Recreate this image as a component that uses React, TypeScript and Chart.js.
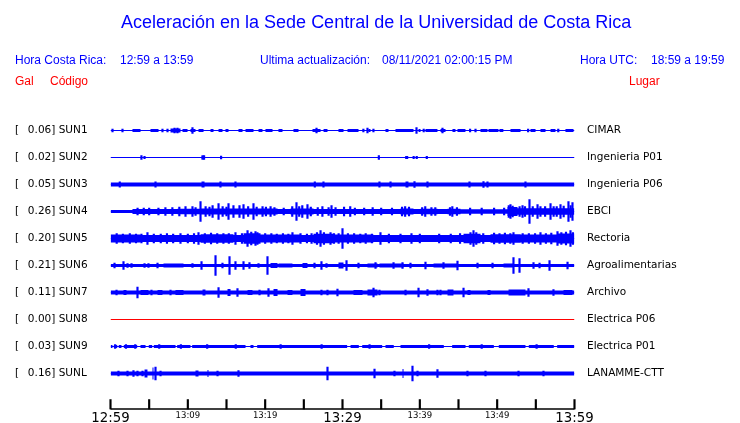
import React, { useEffect, useRef } from "react";
import { Chart, registerables } from "chart.js";

Chart.register(...registerables);

// ---------- texts ----------
const TITLE = "Aceleración en la Sede Central de la Universidad de Costa Rica";
const LOCAL_LABEL = "Hora Costa Rica:";
const LOCAL_RANGE = "12:59 a 13:59";
const UPDATE_LABEL = "Ultima actualización:";
const UPDATE_TIME = "08/11/2021 02:00:15 PM";
const UTC_LABEL = "Hora UTC:";
const UTC_RANGE = "18:59 a 19:59";
const COL_GAL = "Gal";
const COL_CODE = "Código";
const COL_PLACE = "Lugar";

// ---------- time axis (minutes after 12:59) ----------
const TIME_TICK_MINUTES = [0, 5, 10, 15, 20, 25, 30, 35, 40, 45, 50, 55, 60];
const TIME_LABEL_MINUTES = [0, 10, 20, 30, 40, 50, 60];
const TIME_LABELS = ["12:59", "13:09", "13:19", "13:29", "13:39", "13:49", "13:59"];
const MAJOR_TIME_LABELS = ["12:59", "13:29", "13:59"];

// ---------- stations ----------
const STATION_CODES = ["SUN1", "SUN2", "SUN3", "SUN4", "SUN5", "SUN6", "SUN7", "SUN8", "SUN9", "SUNL"];
const PEAK_GAL = [0.06, 0.02, 0.05, 0.26, 0.2, 0.21, 0.11, 0.0, 0.03, 0.16];
const PLACES = [
  "CIMAR",
  "Ingenieria P01",
  "Ingenieria P06",
  "EBCI",
  "Rectoria",
  "Agroalimentarias",
  "Archivo",
  "Electrica P06",
  "Electrica P01",
  "LANAMME-CTT",
];
// background half-amplitude of each trace (trace units)
const BASE_AMP = [0.5, 0.5, 2, 1.5, 3.5, 1.5, 2, 0.5, 0.5, 2];

// bursts: [start minute, end minute, half-amplitude]
const SUN1_BURSTS = [
  [2.84, 3.88, 1.5], [5.17, 6.21, 1.5], [7.76, 9.05, 2], [9.31, 9.96, 1.5], [10.34, 10.99, 1.5],
  [11.38, 12.03, 1.5], [12.93, 13.32, 1.5], [13.97, 14.48, 1.5], [14.87, 15.26, 1.5], [16.55, 17.07, 1.5],
  [17.46, 18.49, 1.5], [19.14, 19.65, 1.5], [20.04, 20.95, 1.5], [21.72, 22.24, 1.5], [23.66, 24.31, 1.5],
  [26.12, 27.16, 1.5], [27.55, 28.06, 1.5], [29.48, 30.13, 1.5], [30.65, 32.07, 1.5], [33.36, 33.62, 1.5],
  [35.56, 35.95, 1.5], [36.85, 39.18, 1.5], [39.83, 40.09, 1.5], [40.73, 42.28, 1.5], [42.67, 43.32, 1.5],
  [44.22, 44.61, 1.5], [44.87, 45.9, 1.5], [47.84, 48.75, 1.5], [48.88, 50.17, 1.5], [50.3, 50.8, 1.5],
  [51.72, 53.02, 1.5], [54.31, 54.96, 1.5], [55.6, 56.25, 1.5], [56.9, 57.54, 1.5], [58.83, 59.87, 1.5],
];
const SUN2_BURSTS = [[11.8, 12.2, 1.5], [38.1, 38.5, 1.5]];
const SUN3_BURSTS = [[11.77, 12.16, 3], [38.15, 38.53, 3]];
const SUN4_BURSTS = [
  [2.84, 8.66, 2.4], [8.66, 11.64, 2.8], [11.64, 21.6, 3], [21.6, 23.28, 2.4], [23.28, 26.25, 3],
  [26.25, 37.5, 2.5], [37.5, 39.18, 3], [39.18, 40.09, 2.4], [40.09, 42.28, 2.8], [42.28, 43.58, 2.4],
  [43.58, 45.26, 2.8], [45.26, 51.34, 2.2], [51.34, 52.63, 4.5], [52.63, 60, 3.2],
];
const SUN5_BURSTS = [
  [0, 3.88, 4], [11.64, 15.9, 4.2], [17.2, 19.4, 5.2], [19.4, 24.57, 4], [26.25, 28.84, 4.7],
  [28.84, 34.0, 4], [45.65, 47.85, 4.7], [49.14, 53.02, 4.3], [53.02, 57.8, 4.1], [57.8, 60, 5],
];
const SUN6_BURSTS = [
  [6.85, 9.44, 2], [20.69, 21.6, 2.5], [21.72, 23.53, 2], [24.83, 25.47, 2.5], [29.48, 30.13, 3],
  [33.23, 34.53, 2], [34.78, 37.89, 2], [41.77, 44.87, 2], [50.82, 52.11, 2],
];
const SUN7_BURSTS = [
  [1.68, 2.07, 2.5], [3.88, 4.91, 2.5], [6.08, 6.72, 2.5], [8.4, 9.44, 2.5], [11.9, 12.28, 3],
  [15.13, 15.52, 3.5], [17.72, 18.36, 2.5], [21.08, 21.6, 3.5], [22.89, 23.53, 2.5], [24.57, 25.22, 3.5],
  [31.42, 32.59, 2.5], [33.23, 34.53, 3], [43.58, 44.35, 3], [46.16, 46.55, 2.5],
  [48.75, 49.14, 2.5], [51.47, 53.66, 3], [58.58, 59.74, 2.5],
];
const SUN8_BURSTS: number[][] = [];
const SUN9_BURSTS = [
  [0, 0.26, 1.5], [0.43, 0.87, 1.5], [1.07, 1.42, 1.5], [1.72, 3.45, 1.5], [3.88, 4.53, 1.5],
  [4.95, 5.39, 1.5], [5.6, 8.41, 1.5], [8.62, 10.34, 1.5], [10.56, 17.46, 1.5], [18.1, 18.49, 1.5],
  [18.97, 30.6, 1.5], [31.04, 32.11, 1.5], [32.55, 35.13, 1.5], [35.56, 36.63, 1.5], [37.5, 43.1, 1.5],
  [44.18, 45.91, 1.5], [46.33, 49.57, 1.5], [50.21, 53.66, 1.5], [54.09, 57.32, 1.5], [57.76, 60, 1.5],
];
const SUNL_BURSTS = [[4.4, 4.78, 4], [5.43, 5.56, 6], [10.99, 11.38, 3], [12.54, 12.67, 3.5], [37.76, 37.89, 4.5]];

// spikes: [minute, half-amplitude]
const SUN1_SPIKES = [
  [0.26, 1.5], [1.55, 1.5], [6.72, 1.5], [7.37, 1.5], [8.28, 2.5], [8.66, 2.5], [10.6, 3], [26.64, 2.5],
  [32.7, 1.5], [33.23, 2.5], [34.0, 1.5], [39.57, 3], [40.5, 1.5], [42.93, 2.5], [46.5, 1.5], [47.2, 1.5],
  [54.0, 1.5], [57.9, 1.5],
];
const SUN2_SPIKES = [[4.0, 2], [4.4, 1.2], [11.9, 2], [12.1, 2], [14.3, 1.5], [34.7, 2], [39.2, 1.2], [39.6, 1.2], [40.9, 1.2]];
const SUN3_SPIKES = [
  [1.2, 2.7], [5.82, 2.7], [14.22, 2.7], [16.16, 2.7], [26.42, 2.7], [27.54, 2.7], [34.78, 2.7], [36.21, 2.7],
  [39.31, 3], [40.99, 2.7], [46.42, 2.7], [48.23, 3], [48.75, 2.7], [53.66, 2.7],
];
const SUN4_SPIKES = [
  [3.5, 3.5], [4.3, 3.5], [5.0, 3.5], [6.2, 3.5], [7.1, 4], [8.0, 4], [8.9, 4.5], [9.7, 5], [10.6, 5],
  [11.0, 4], [11.64, 10], [12.3, 5], [12.8, 4.5], [13.2, 6], [13.97, 8], [14.5, 5], [15.0, 4.5], [15.26, 8],
  [15.9, 6], [16.68, 6], [17.2, 7], [17.8, 5], [18.49, 8], [18.9, 4.5], [19.66, 5], [20.1, 4.5], [20.7, 5],
  [21.2, 4], [22.4, 3.5], [23.5, 5], [24.05, 9], [24.4, 5], [24.8, 6], [25.47, 7], [25.9, 4.5], [26.8, 4],
  [27.4, 5], [28.2, 4], [28.58, 6], [29.1, 4], [30.2, 4.5], [31.0, 5], [31.6, 3.5], [32.8, 3.5], [33.9, 4],
  [35.0, 3.5], [36.4, 3.5], [37.7, 4.5], [38.1, 5], [38.6, 4.5], [40.3, 4], [40.7, 5], [41.5, 4], [42.0, 4],
  [43.9, 4], [44.2, 5], [44.8, 4], [46.5, 3.5], [48.0, 3.5], [49.6, 3.5], [50.9, 3.5], [51.5, 6], [51.72, 7],
  [52.0, 5.5], [52.9, 5], [53.28, 6], [53.6, 5], [54.18, 12], [54.6, 5], [55.22, 7], [55.6, 5], [56.2, 5],
  [56.9, 8], [57.3, 5], [57.7, 5], [58.19, 7], [58.6, 5.5], [59.22, 10], [59.5, 6], [59.74, 9],
];
const SUN5_SPIKES = [
  [0.8, 5], [1.6, 4.5], [2.5, 5], [3.3, 4.5], [4.0, 4.5], [4.78, 6], [5.6, 4.5], [6.5, 4.5], [7.3, 5],
  [8.1, 4.5], [9.05, 5], [10.0, 4.5], [10.8, 5], [11.38, 6], [12.2, 5], [13.0, 5.5], [13.8, 5], [14.6, 5],
  [15.3, 5], [16.16, 6], [17.0, 5], [17.72, 8], [18.2, 6.5], [18.75, 7], [19.0, 6], [20.0, 5], [20.8, 5],
  [21.5, 4.5], [22.3, 5], [23.0, 4.5], [23.53, 6], [24.57, 5], [25.4, 4.5], [26.0, 5], [26.7, 6],
  [27.16, 8], [27.6, 6], [28.45, 6], [28.9, 5], [29.5, 5], [30.0, 10], [30.7, 5], [31.5, 5], [32.3, 4.5],
  [33.0, 5], [33.8, 4.5], [34.91, 6], [36.0, 4.5], [37.5, 4.5], [38.92, 5], [40.0, 4.5], [42.5, 4.5],
  [44.0, 4.5], [45.2, 5], [46.55, 6], [46.94, 8], [47.3, 6], [48.2, 5], [49.6, 5.5], [50.3, 5], [51.0, 5.5],
  [51.7, 5], [52.11, 6], [53.3, 5], [54.1, 5], [54.9, 5], [55.6, 6], [56.3, 5], [57.0, 5.5], [57.8, 7],
  [58.3, 6], [58.9, 6.5], [59.48, 8], [59.8, 6],
];
const SUN6_SPIKES = [
  [0.52, 2.5], [1.68, 4], [2.2, 2], [2.72, 2], [4.4, 2], [4.91, 2], [6.08, 2.5], [10.6, 2], [11.77, 4],
  [13.58, 10], [14.48, 2.5], [15.39, 9], [16.16, 4], [17.2, 4], [17.97, 3], [19.14, 2], [20.3, 9],
  [26.38, 2.5], [27.28, 4], [27.93, 2], [30.52, 5], [32.07, 2.5], [34.27, 3], [36.6, 3], [37.76, 3],
  [38.79, 2.5], [40.73, 3.5], [43.06, 3], [44.87, 4.5], [47.46, 2.5], [49.4, 2.5], [52.11, 8], [52.89, 7],
  [54.7, 3], [55.48, 2.5], [56.77, 5], [59.1, 3.5],
];
const SUN7_SPIKES = [
  [0.78, 2.5], [3.49, 5.5], [5.3, 2.5], [7.76, 2.5], [13.97, 5], [16.42, 4], [19.27, 2.5], [20.43, 4],
  [27.28, 2.5], [28.06, 2.5], [29.35, 3.5], [34.01, 4.5], [34.78, 2.5], [38.15, 2.5], [39.83, 4.5],
  [40.99, 3], [42.28, 2.5], [42.67, 2.5], [45.65, 4.5], [54.05, 4], [57.28, 3],
];
const SUN8_SPIKES: number[][] = [];
const SUN9_SPIKES = [
  [0.6, 2], [2.0, 2], [3.2, 2], [6.3, 2], [9.1, 2], [12.5, 2], [16.2, 2], [22.0, 2], [27.3, 2], [33.5, 2],
  [41.2, 2], [48.0, 2], [55.1, 2],
];
const SUNL_SPIKES = [
  [1.03, 2.5], [2.2, 2.5], [2.97, 3], [3.49, 2.5], [4.14, 2.5], [5.82, 6.5], [6.47, 2.5], [13.84, 2.5],
  [16.55, 3], [28.06, 6.5], [34.14, 4.5], [36.72, 2.5], [39.05, 7.5], [39.7, 2.5], [42.28, 4], [46.16, 2.5],
  [48.49, 2.5], [52.76, 2.5], [55.99, 2.5],
];

const BURSTS = [SUN1_BURSTS, SUN2_BURSTS, SUN3_BURSTS, SUN4_BURSTS, SUN5_BURSTS, SUN6_BURSTS, SUN7_BURSTS, SUN8_BURSTS, SUN9_BURSTS, SUNL_BURSTS];
const SPIKES = [SUN1_SPIKES, SUN2_SPIKES, SUN3_SPIKES, SUN4_SPIKES, SUN5_SPIKES, SUN6_SPIKES, SUN7_SPIKES, SUN8_SPIKES, SUN9_SPIKES, SUNL_SPIKES];

// ---------- styling ----------
const BLUE = "#0000ff";
const RED = "#ff0000";
const TRACE_UNITS_PER_ROW = 27;
const CENTER_OVERLAP = 0.6; // trace units each half-fill reaches past the centre line
const AXIS_ROW = 10.315;
const AXIS_TICK_ROWS = 0.35;
const HEAD_FONT = '"Liberation Sans", Arial, Helvetica, sans-serif';
const LABEL_FONT = '"DejaVu Sans", Verdana, sans-serif';

function envelope(row: number, base: number, bursts: number[][], sign: number) {
  const k = 1 / TRACE_UNITS_PER_ROW;
  const sorted = [...bursts].sort((a, b) => a[0] - b[0]);
  const pts: { x: number; y: number }[] = [{ x: 0, y: row + sign * base * k }];
  sorted.forEach(([s, e, a]) => {
    pts.push({ x: s, y: row + sign * Math.max(a, base) * k });
    pts.push({ x: e, y: row + sign * base * k });
  });
  pts.push({ x: 60, y: row + sign * base * k });
  return pts;
}

export default function App() {
  const ref = useRef<HTMLCanvasElement>(null);

  useEffect(() => {
    if (!ref.current) return;
    const k = 1 / TRACE_UNITS_PER_ROW;
    const datasets: any[] = [];
    STATION_CODES.forEach((code, i) => {
      const color = PEAK_GAL[i] === 0 ? RED : BLUE;
      [1, -1].forEach((sign) => {
        datasets.push({
          type: "line",
          label: code,
          data: envelope(i, BASE_AMP[i], BURSTS[i], sign),
          stepped: "before",
          borderColor: "rgba(0,0,0,0)",
          borderWidth: 1,
          backgroundColor: color,
          fill: { value: i - sign * CENTER_OVERLAP * k },
          pointRadius: 0,
          tension: 0,
        });
      });
      if (SPIKES[i].length) {
        datasets.push({
          type: "bar",
          label: code + " spikes",
          data: SPIKES[i].map(([t, a]) => ({ x: t, y: [i - a * k, i + a * k] })),
          backgroundColor: color,
          borderWidth: 0,
          barThickness: 1.5,
          grouped: false,
        });
      }
    });
    datasets.push({
      type: "bar",
      label: "axis ticks",
      data: TIME_TICK_MINUTES.map((m) => ({ x: m, y: [AXIS_ROW - AXIS_TICK_ROWS, AXIS_ROW] })),
      backgroundColor: "#000",
      borderWidth: 0,
      barThickness: 1.5,
      grouped: false,
      clip: false,
    });
    datasets.push({
      type: "line",
      label: "axis",
      data: [
        { x: 0, y: AXIS_ROW },
        { x: 60, y: AXIS_ROW },
      ],
      borderColor: "#000",
      borderWidth: 1.5,
      pointRadius: 0,
      fill: false,
      clip: false,
    });

    const leftLabels = STATION_CODES.map((c, i) => `[  \u2009${PEAK_GAL[i].toFixed(2)}] ${c}`);

    const chart = new Chart(ref.current, {
      type: "bar",
      data: { datasets },
      options: {
        animation: false,
        responsive: false,
        layout: { padding: { left: 15, right: 0, top: 117, bottom: 0 } },
        plugins: { legend: { display: false }, tooltip: { enabled: false } },
        scales: {
          x: {
            type: "linear",
            min: 0,
            max: 60,
            offset: false,
            grid: { display: false, drawTicks: false },
            border: { display: false },
            afterBuildTicks: (s: any) => {
              s.ticks = TIME_LABEL_MINUTES.map((v) => ({ value: v }));
            },
            afterFit: (s: any) => {
              s.height = 11.7;
            },
            ticks: {
              autoSkip: false,
              maxRotation: 0,
              minRotation: 0,
              padding: -1,
              color: "#000",
              callback: (v: any) => TIME_LABELS[TIME_LABEL_MINUTES.indexOf(Number(v))],
              font: (ctx: any) => ({
                family: LABEL_FONT,
                size: MAJOR_TIME_LABELS.includes(TIME_LABELS[ctx.index]) ? 13.3 : 8.5,
              }),
            },
          },
          y: {
            type: "linear",
            position: "left",
            reverse: true,
            min: -0.5,
            max: 10.4,
            grid: { display: false, drawTicks: false },
            border: { display: false },
            afterBuildTicks: (s: any) => {
              s.ticks = STATION_CODES.map((_, i) => ({ value: i }));
            },
            afterFit: (s: any) => {
              s.width = 95.5;
              s.paddingTop = 0;
              s.paddingBottom = 0;
            },
            ticks: {
              autoSkip: false,
              crossAlign: "far",
              padding: 0,
              color: "#000",
              font: { family: LABEL_FONT, size: 10.5 },
              callback: (v: any) => leftLabels[Number(v)] ?? "",
            },
          },
          y2: {
            type: "linear",
            position: "right",
            reverse: true,
            min: -0.5,
            max: 10.4,
            grid: { display: false, drawTicks: false },
            border: { display: false },
            afterBuildTicks: (s: any) => {
              s.ticks = PLACES.map((_, i) => ({ value: i }));
            },
            afterFit: (s: any) => {
              s.width = 165.5;
              s.paddingTop = 0;
              s.paddingBottom = 0;
            },
            ticks: {
              autoSkip: false,
              crossAlign: "near",
              padding: 12.5,
              color: "#000",
              font: { family: LABEL_FONT, size: 10.5 },
              callback: (v: any) => PLACES[Number(v)] ?? "",
            },
          },
        },
      } as any,
    });
    return () => chart.destroy();
  }, []);

  const txt = (text: string, left: number, top: number, size: number, color: string) => (
    <span
      style={{
        position: "absolute",
        left,
        top,
        fontFamily: HEAD_FONT,
        fontSize: size,
        lineHeight: `${size}px`,
        color,
        whiteSpace: "pre",
      }}
    >
      {text}
    </span>
  );

  return (
    <div
      style={{
        position: "fixed",
        left: 0,
        top: 0,
        width: 740,
        height: 423,
        background: "#fff",
        overflow: "hidden",
      }}
    >
      <canvas ref={ref} width={740} height={423} style={{ position: "absolute", left: 0, top: 0 }} />
      {txt(TITLE, 121, 13.3, 18, BLUE)}
      {txt(LOCAL_LABEL, 15, 54, 12, BLUE)}
      {txt(LOCAL_RANGE, 120, 54, 12, BLUE)}
      {txt(UPDATE_LABEL, 260, 54, 12, BLUE)}
      {txt(UPDATE_TIME, 382, 54, 12, BLUE)}
      {txt(UTC_LABEL, 580, 54, 12, BLUE)}
      {txt(UTC_RANGE, 651, 54, 12, BLUE)}
      {txt(COL_GAL, 15, 75, 12, RED)}
      {txt(COL_CODE, 50, 75, 12, RED)}
      {txt(COL_PLACE, 629, 75, 12, RED)}
    </div>
  );
}
